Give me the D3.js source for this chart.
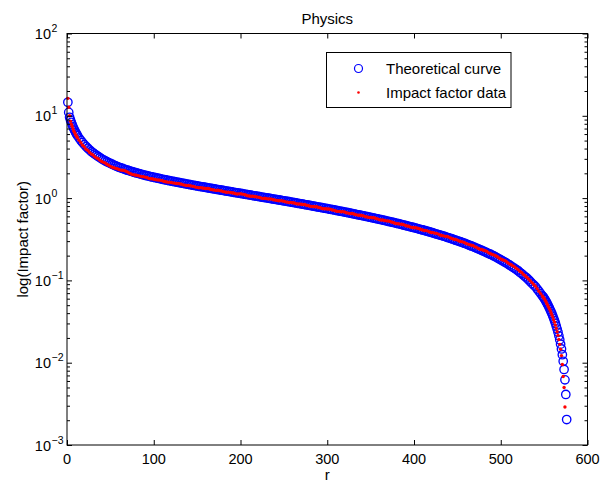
<!DOCTYPE html>
<html><head><meta charset="utf-8">
<script src="https://cdn.jsdelivr.net/npm/d3@7"></script>
<style>
html,body{margin:0;padding:0;background:#fff;}
svg{display:block;font-family:"Liberation Sans",Arial,Helvetica,sans-serif;}
</style></head><body>
<svg id="chart" width="602" height="485"></svg>
<script>
// ---- data ----
const ranks = [1,2,3,4,5,6,7,8,9,10,11,12,
14,16,18,20,22,24,26,28,30,32,
34,36,38,40,42,44,46,48,50,52,
54,56,58,60,62,64,66,68,70,72,
74,76,78,80,82,84,86,88,90,92,
94,96,98,100,102,104,106,108,110,112,
114,116,118,120,122,124,126,128,130,132,
134,136,138,140,142,144,146,148,150,152,
154,156,158,160,162,164,166,168,170,172,
174,176,178,180,182,184,186,188,190,192,
194,196,198,200,202,204,206,208,210,212,
214,216,218,220,222,224,226,228,230,232,
234,236,238,240,242,244,246,248,250,252,
254,256,258,260,262,264,266,268,270,272,
274,276,278,280,282,284,286,288,290,292,
294,296,298,300,302,304,306,308,310,312,
314,316,318,320,322,324,326,328,330,332,
334,336,338,340,342,344,346,348,350,352,
354,356,358,360,362,364,366,368,370,372,
374,376,378,380,382,384,386,388,390,392,
394,396,398,400,402,404,406,408,410,412,
414,416,418,420,422,424,426,428,430,432,
434,436,438,440,442,444,446,448,450,452,
454,456,458,460,462,464,466,468,470,472,
474,476,478,480,482,484,486,488,490,492,
494,496,498,500,502,504,506,508,510,512,
514,516,518,520,522,524,526,528,530,532,
534,536,538,540,542,544,546,548,
549,550,551,552,553,554,555,556,557,558,
559,560,561,562,563,564,565,566,567,568,
569,570,571,572,573,574,575,576];

const theoretical = [14.6,11.0,9.6,8.9,8.33,7.77,7.31,6.91,6.57,6.27,6.01,5.77,
5.36,5.01,4.72,4.46,4.23,4.04,3.86,3.69,3.55,3.42,
3.31,3.20,3.10,3.00,2.92,2.84,2.77,2.70,2.64,2.58,
2.52,2.47,2.42,2.37,2.33,2.29,2.25,2.21,2.18,2.14,
2.11,2.08,2.05,2.02,1.995,1.968,1.943,1.919,1.895,1.872,
1.849,1.828,1.807,1.787,1.768,1.750,1.731,1.713,1.694,1.678,
1.661,1.645,1.628,1.612,1.597,1.582,1.567,1.552,1.537,1.523,
1.509,1.496,1.482,1.468,1.455,1.442,1.430,1.417,1.405,1.393,
1.381,1.370,1.358,1.346,1.335,1.324,1.312,1.301,1.290,1.279,
1.269,1.258,1.248,1.237,1.227,1.217,1.207,1.197,1.187,1.177,
1.168,1.158,1.149,1.139,1.130,1.121,1.111,1.102,1.093,1.084,
1.075,1.067,1.058,1.049,1.040,1.031,1.023,1.014,1.006,0.998,
0.989,0.981,0.973,0.965,0.957,0.949,0.942,0.934,0.926,0.918,
0.911,0.903,0.896,0.888,0.880,0.873,0.865,0.858,0.850,0.843,
0.836,0.828,0.821,0.814,0.807,0.800,0.792,0.785,0.778,0.771,
0.764,0.758,0.751,0.744,0.737,0.730,0.724,0.717,0.710,0.703,
0.697,0.690,0.684,0.677,0.671,0.664,0.658,0.651,0.645,0.639,
0.632,0.626,0.620,0.614,0.608,0.601,0.595,0.589,0.583,0.577,
0.571,0.565,0.559,0.553,0.547,0.541,0.535,0.529,0.523,0.517,
0.512,0.506,0.500,0.494,0.488,0.483,0.477,0.471,0.465,0.459,
0.454,0.448,0.443,0.437,0.432,0.426,0.421,0.415,0.410,0.404,
0.399,0.393,0.388,0.382,0.377,0.371,0.366,0.361,0.356,0.351,
0.345,0.340,0.334,0.329,0.324,0.319,0.313,0.308,0.303,0.298,
0.293,0.288,0.283,0.278,0.273,0.267,0.262,0.257,0.252,0.247,
0.242,0.237,0.232,0.227,0.222,0.217,0.212,0.208,0.203,0.198,
0.193,0.188,0.183,0.178,0.173,0.168,0.164,0.159,0.154,0.149,
0.144,0.140,0.135,0.131,0.125,0.121,0.116,0.111,0.107,0.102,
0.097,0.092,0.088,0.084,0.0786,0.0737,0.0691,0.0648,
0.0631,0.0608,0.0584,0.0559,0.0535,0.0511,0.0487,0.0463,0.0439,0.0416,
0.0393,0.0369,0.0346,0.0324,0.0301,0.0278,0.0256,0.0234,0.0212,0.0190,
0.0168,0.0147,0.0125,0.0104,0.00828,0.00619,0.00411,0.00204];

const impactData = [16.3,12.7,10.0,8.6,7.9,7.4,6.9,6.5,6.2,5.9,5.65,5.42,
5.04,4.71,4.39,4.19,3.93,3.80,3.59,3.43,3.34,3.18,
3.08,3.01,2.88,2.79,2.72,2.67,2.58,2.51,2.43,2.37,
2.34,2.30,2.27,2.23,2.19,2.18,2.16,2.12,2.07,2.01,
1.96,1.93,1.91,1.90,1.875,1.85,1.826,1.823,1.80,1.778,
1.738,1.718,1.717,1.698,1.680,1.663,1.662,1.644,1.626,1.594,
1.578,1.563,1.563,1.548,1.533,1.519,1.504,1.505,1.491,1.477,
1.449,1.436,1.423,1.424,1.411,1.399,1.387,1.360,1.349,1.337,
1.340,1.329,1.317,1.306,1.308,1.298,1.273,1.262,1.251,1.241,
1.244,1.233,1.223,1.200,1.190,1.180,1.183,1.173,1.163,1.153,
1.133,1.123,1.126,1.128,1.119,1.110,1.089,1.069,1.060,1.051,
1.054,1.046,1.037,1.028,1.019,1.000,0.992,0.994,0.986,0.978,
0.979,0.971,0.954,0.946,0.938,0.930,0.933,0.925,0.917,0.900,
0.893,0.885,0.887,0.879,0.871,0.856,0.848,0.849,0.842,0.835,
0.836,0.820,0.813,0.798,0.791,0.792,0.784,0.785,0.770,0.763,
0.749,0.743,0.743,0.737,0.737,0.730,0.717,0.710,0.696,0.689,
0.690,0.683,0.684,0.677,0.664,0.657,0.651,0.651,0.645,0.633,
0.626,0.620,0.620,0.614,0.608,0.595,0.589,0.583,0.583,0.577,
0.577,0.565,0.559,0.547,0.542,0.541,0.535,0.529,0.528,0.522,
0.512,0.506,0.495,0.489,0.488,0.483,0.482,0.476,0.465,0.459,
0.454,0.444,0.439,0.437,0.436,0.430,0.425,0.415,0.410,0.404,
0.403,0.397,0.388,0.382,0.381,0.375,0.373,0.365,0.356,0.351,
0.348,0.343,0.341,0.336,0.327,0.322,0.316,0.314,0.309,0.301,
0.296,0.294,0.289,0.281,0.276,0.272,0.267,0.265,0.257,0.252,
0.244,0.239,0.237,0.232,0.229,0.224,0.216,0.212,0.207,0.204,
0.199,0.194,0.187,0.182,0.178,0.175,0.171,0.164,0.159,0.155,
0.150,0.146,0.140,0.135,0.129,0.125,0.119,0.114,0.109,0.104,
0.099,0.094,0.089,0.085,0.0794,0.0737,0.0691,0.0648,
0.0625,0.0602,0.0578,0.0553,0.0524,0.0501,0.0477,0.0454,0.0430,0.0404,
0.0381,0.0358,0.0332,0.0311,0.0286,0.0261,0.0238,0.0215,0.0191,0.0167,
0.0146,0.0122,0.0095,0.0068,0.0050,0.0029];

const xTicks = [0,100,200,300,400,500,600];
const yTickExponents = [-3,-2,-1,0,1,2];
const yMinorMultipliers = [2,3,4,5,6,7,8,9];
const chartTitle = "Physics";
const xLabel = "r";
const yLabel = "log(Impact factor)";
const legendLabels = ["Theoretical curve","Impact factor data"];

// ---- layout ----
const M = {left:67, right:587.5, top:33.5, bottom:445};
const FONT = 14.5;
const svg = d3.select("#chart");
svg.append("rect").attr("width",602).attr("height",485).attr("fill","#fff");

const x = d3.scaleLinear().domain([xTicks[0], xTicks[xTicks.length-1]]).range([M.left, M.right]);
const yMajors = yTickExponents.map(e => Math.pow(10, e));
const y = d3.scaleLog().domain([yMajors[0], yMajors[yMajors.length-1]]).range([M.bottom, M.top]);
const yMinors = [];
yTickExponents.slice(0,-1).forEach(e => yMinorMultipliers.forEach(k => yMinors.push(k*Math.pow(10,e))));

// ---- marks ----
svg.append("g").selectAll("circle").data(theoretical).join("circle")
  .attr("cx",(d,i)=>x(ranks[i])).attr("cy",d=>y(d)).attr("r",4.2)
  .attr("fill","none").attr("stroke","#0000ff").attr("stroke-width",1.35);

svg.append("g").selectAll("circle").data(impactData).join("circle")
  .attr("cx",(d,i)=>x(ranks[i])).attr("cy",d=>y(d)).attr("r",1.7)
  .attr("fill","#ff0000");

// ---- axes (ticks inside, MATLAB style) ----
function clean(g){ g.select(".domain").remove(); g.selectAll("text").remove(); g.selectAll("line").attr("stroke","#000"); }
svg.append("g").attr("transform",`translate(0,${M.bottom})`)
  .call(d3.axisBottom(x).tickValues(xTicks).tickSize(-5)).call(clean);
svg.append("g").attr("transform",`translate(0,${M.top})`)
  .call(d3.axisTop(x).tickValues(xTicks).tickSize(-5)).call(clean);
svg.append("g").attr("transform",`translate(${M.left},0)`)
  .call(d3.axisLeft(y).tickValues(yMajors).tickSize(-5)).call(clean);
svg.append("g").attr("transform",`translate(${M.right},0)`)
  .call(d3.axisRight(y).tickValues(yMajors).tickSize(-5)).call(clean);
svg.append("g").attr("transform",`translate(${M.left},0)`)
  .call(d3.axisLeft(y).tickValues(yMinors).tickSize(-3)).call(clean);
svg.append("g").attr("transform",`translate(${M.right},0)`)
  .call(d3.axisRight(y).tickValues(yMinors).tickSize(-3)).call(clean);

svg.append("rect").attr("x",M.left).attr("y",M.top)
  .attr("width",M.right-M.left).attr("height",M.bottom-M.top)
  .attr("fill","none").attr("stroke","#000").attr("stroke-width",1);

// tick labels
svg.append("g").selectAll("text").data(xTicks).join("text")
  .attr("x",d=>x(d)).attr("y",M.bottom+19).attr("text-anchor","middle")
  .attr("font-size",FONT).attr("fill","#000").text(d=>d);

const yl = svg.append("g").selectAll("g").data(yTickExponents).join("g");
yl.append("text").attr("x",51).attr("y",e=>y(Math.pow(10,e))+5.5)
  .attr("text-anchor","end").attr("font-size",FONT).attr("fill","#000").text("10");
yl.append("text").attr("x",51.5).attr("y",e=>y(Math.pow(10,e))-1.5)
  .attr("text-anchor","start").attr("font-size",10.5).attr("fill","#000").text(e=>e<0?"\u2212"+(-e):String(e));

// title & labels
svg.append("text").attr("x",(M.left+M.right)/2).attr("y",24).attr("text-anchor","middle")
  .attr("font-size",15).attr("fill","#000").text(chartTitle);
svg.append("text").attr("x",(M.left+M.right)/2).attr("y",480).attr("text-anchor","middle")
  .attr("font-size",15).attr("fill","#000").text(xLabel);
svg.append("text").attr("transform",`translate(28,${(M.top+M.bottom)/2}) rotate(-90)`)
  .attr("text-anchor","middle").attr("font-size",15).attr("fill","#000").text(yLabel);

// legend
const lg = svg.append("g");
lg.append("rect").attr("x",326.5).attr("y",52.5).attr("width",184.5).attr("height",55)
  .attr("fill","#fff").attr("stroke","#000").attr("stroke-width",1);
lg.append("circle").attr("cx",358.5).attr("cy",68.5).attr("r",4)
  .attr("fill","none").attr("stroke","#0000ff").attr("stroke-width",1.2);
lg.append("circle").attr("cx",358.5).attr("cy",92.5).attr("r",1.3).attr("fill","#ff0000");
lg.selectAll("text.lab").data(legendLabels).join("text").attr("class","lab")
  .attr("x",386).attr("y",(d,i)=>73.5+i*24).attr("font-size",15).attr("fill","#000").text(d=>d);
</script>
</body></html>
